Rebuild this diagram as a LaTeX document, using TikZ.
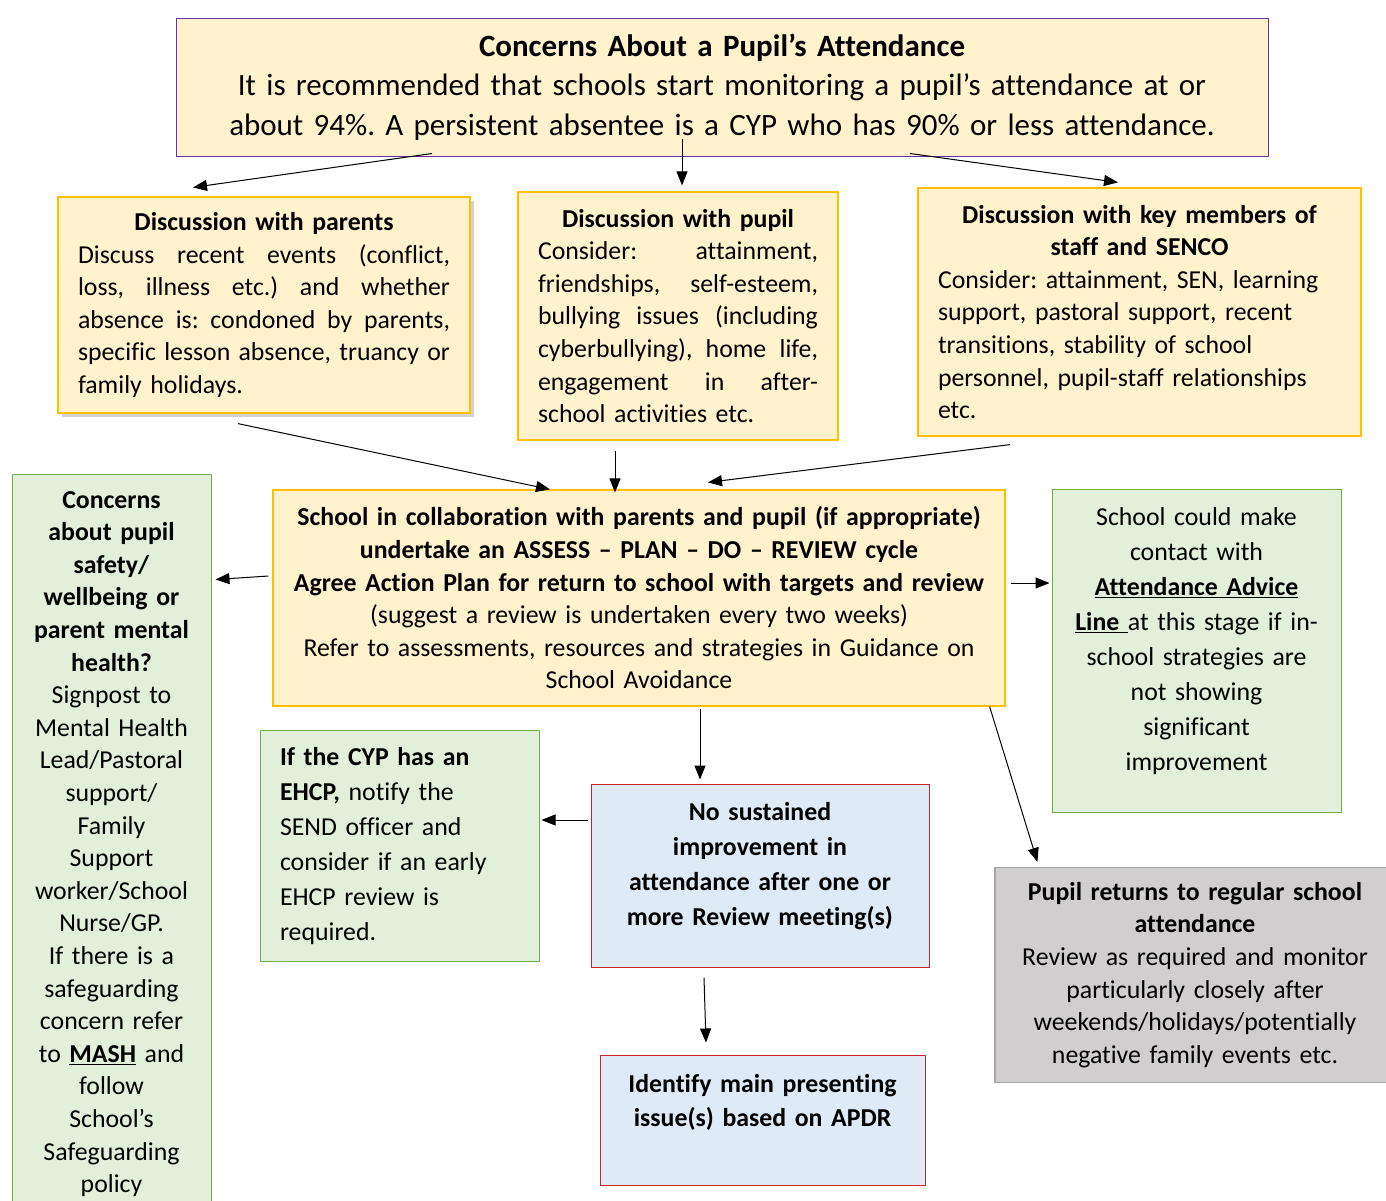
\documentclass[tikz,border=0pt]{standalone}
\usepackage{fontspec}
\setmainfont{Carlito}[Ligatures=NoCommon]
\usepackage{tikz}
\usetikzlibrary{arrows.meta, calc, shadows}
\usepackage{xcolor}
\definecolor{paleyellow}{HTML}{FFF2CC}
\definecolor{gold}{HTML}{FFC000}
\definecolor{purpleline}{HTML}{7030A0}
\definecolor{palegreen}{HTML}{E2EFDA}
\definecolor{greenline}{HTML}{70AD47}
\definecolor{paleblue}{HTML}{DEEBF7}
\definecolor{redline}{HTML}{D0202C}
\definecolor{greyfill}{HTML}{D0CECE}
\definecolor{greyline}{HTML}{A5A5A5}
\setlength{\parindent}{0pt}
\frenchspacing
\newcommand{\bodysize}{\fontsize{25.8}{32.6}\selectfont}
\newcommand{\widesize}{\fontsize{25.8}{35}\selectfont}
% justified line: spaces stretch to the full width
\newcommand{\fillline}[1]{\leavevmode\hbox to\hsize{\spaceskip=.226em plus 1fil\relax #1}}
% extra room under the last line
\newcommand{\lowpad}[1]{\rule[-#1]{0pt}{#1}}

\begin{document}
\begin{tikzpicture}[x=1pt, y=-1pt,
  every node/.style={rectangle, draw, inner sep=0pt, font=\bodysize},
  yellowbox/.style={fill=paleyellow, draw=gold, line width=1.2pt},
  greenbox/.style={fill=palegreen, draw=greenline, line width=1pt},
  bluebox/.style={fill=paleblue, draw=redline, line width=1pt},
  greybox/.style={fill=greyfill, draw=greyline, line width=1.2pt},
  arr/.style={-{Triangle[length=14pt,width=11pt]}, line width=1pt}]

\useasboundingbox (0,0) rectangle (1386,1200);
\fill[white] (0,0) rectangle (1386,1200);
\clip (0,0) rectangle (1386,1200);

% Nodes
\node[fill=paleyellow, draw=purpleline, line width=1pt, minimum width=1092pt, minimum height=138pt, text width=1080pt, align=center, font=\fontsize{31}{39.5}\selectfont] (concern) at (722,87) {\textbf{Concerns About a Pupil’s Attendance}\\ It is recommended that schools start monitoring a pupil’s attendance at or\\ about 94\%. A persistent absentee is a CYP who has 90\% or less attendance.};

\node[yellowbox, drop shadow={shadow xshift=4pt, shadow yshift=-4pt, opacity=.35}, minimum width=412pt, minimum height=216pt, text width=372pt] (parents) at (264,305) {{\centering\bfseries Discussion with parents\par}
\fillline{Discuss recent events (conflict,}\\
\fillline{loss, illness etc.) and whether}\\
\fillline{absence is: condoned by parents,}\\
\fillline{specific lesson absence, truancy or}\\
family holidays.};

\node[yellowbox, minimum width=320pt, minimum height=248pt, text width=280pt] (pupil) at (678,316) {{\centering\bfseries Discussion with pupil\par}
\fillline{Consider: attainment,}\\
\fillline{friendships, self-esteem,}\\
\fillline{bullying issues (including}\\
\fillline{cyberbullying), home life,}\\
\fillline{engagement in after-}\\
school activities etc.};

\node[yellowbox, minimum width=443pt, minimum height=248pt, text width=403pt] (staff) at (1139.5,312) {{\centering\bfseries Discussion with key members of\\ staff and SENCO\par}
Consider: attainment, SEN, learning\\
support, pastoral support, recent\\
transitions, stability of school\\
personnel, pupil-staff relationships\\
etc.};

\node[yellowbox, minimum width=732pt, minimum height=216pt, text width=720pt, align=center] (cycle) at (639,598) {\textbf{School in collaboration with parents and pupil (if appropriate)}\\ \textbf{undertake an ASSESS – PLAN – DO – REVIEW cycle}\\ \textbf{Agree Action Plan for return to school with targets and review}\\ (suggest a review is undertaken every two weeks)\\ Refer to assessments, resources and strategies in Guidance on\\ School Avoidance};

\node[greenbox, minimum width=199pt, minimum height=740pt, text width=190pt, align=center] (safety) at (111.5,844) {\textbf{Concerns}\\ \textbf{about pupil}\\ \textbf{safety/}\\ \textbf{wellbeing or}\\ \textbf{parent mental}\\ \textbf{health?}\\ Signpost to\\ Mental Health\\ Lead/Pastoral\\ support/\\ Family\\ Support\\ worker/School\\ Nurse/GP.\\ If there is a\\ safeguarding\\ concern refer\\ to \underline{\textbf{MASH}} and\\ follow\\ School’s\\ Safeguarding\\ policy};

\node[greenbox, font=\widesize, minimum width=289pt, minimum height=323pt, text width=280pt, align=center] (advice) at (1196.5,650.5) {School could make\\ contact with\\ \underline{\textbf{Attendance Advice}}\\ \underline{\textbf{Line }}at this stage if in-\\ school strategies are\\ not showing\\ significant\\ improvement\lowpad{23pt}};

\node[greenbox, font=\widesize, minimum width=279pt, minimum height=231pt, text width=239pt, align=left] (ehcp) at (399.5,846) {\textbf{If the CYP has an}\\ \textbf{EHCP,} notify the\\ SEND officer and\\ consider if an early\\ EHCP review is\\ required.};

\node[bluebox, font=\widesize, minimum width=338pt, minimum height=183pt, text width=320pt, align=center] (nosustain) at (760,875.5) {\textbf{No sustained}\\ \textbf{improvement in}\\ \textbf{attendance after one or}\\ \textbf{more Review meeting(s)}\lowpad{23pt}};

\node[bluebox, font=\fontsize{25.8}{34.5}\selectfont, minimum width=325pt, minimum height=130pt, text width=310pt, align=center] (identify) at (762.5,1120) {\textbf{Identify main presenting}\\ \textbf{issue(s) based on APDR}\lowpad{39pt}};

\node[greybox, minimum width=400pt, minimum height=215pt, text width=380pt, align=center] (returns) at (1195,975) {\textbf{Pupil returns to regular school}\\ \textbf{attendance}\\ Review as required and monitor\\ particularly closely after\\ weekends/holidays/potentially\\ negative family events etc.};

% Arrows
\draw[arr] ($(concern.south)+(-290,-3)$) -- ($(parents.north)+(-71,-9)$);
\draw[arr] ($(concern.south)+(-40,-18)$) -- ($(pupil.north)+(4,-6)$);
\draw[arr] ($(concern.south)+(188,-3)$) -- ($(staff.north)+(-21.5,-5)$);
\draw[arr] ($(parents.south)+(-26,10)$) -- ($(cycle.north)+(-89,0)$);
\draw[arr] ($(pupil.south)+(-63,10)$) -- ($(cycle.north)+(-24,3)$);
\draw[arr] ($(staff.south)+(-129.5,8)$) -- ($(cycle.north)+(69,-7)$);
\draw[arr] ($(cycle.west)+(-4,-22)$) -- ($(safety.north east)+(4,106)$);
\draw[arr] ($(cycle.east)+(5,-15)$) -- ($(advice.west)+(-2,-67.5)$);
\draw[arr] ($(cycle.south)+(61,2)$) -- ($(nosustain.north)+(-60,-4)$);
\draw[arr] ($(cycle.south east)+(-16,0)$) -- ($(returns.north west)+(43,-5)$);
\draw[arr] ($(nosustain.west)+(-3,-55.5)$) -- ($(ehcp.east)+(2,-26)$);
\draw[arr] ($(nosustain.south)+(-56,10)$) -- ($(identify.north)+(-56.5,-12)$);

\end{tikzpicture}
\end{document}
